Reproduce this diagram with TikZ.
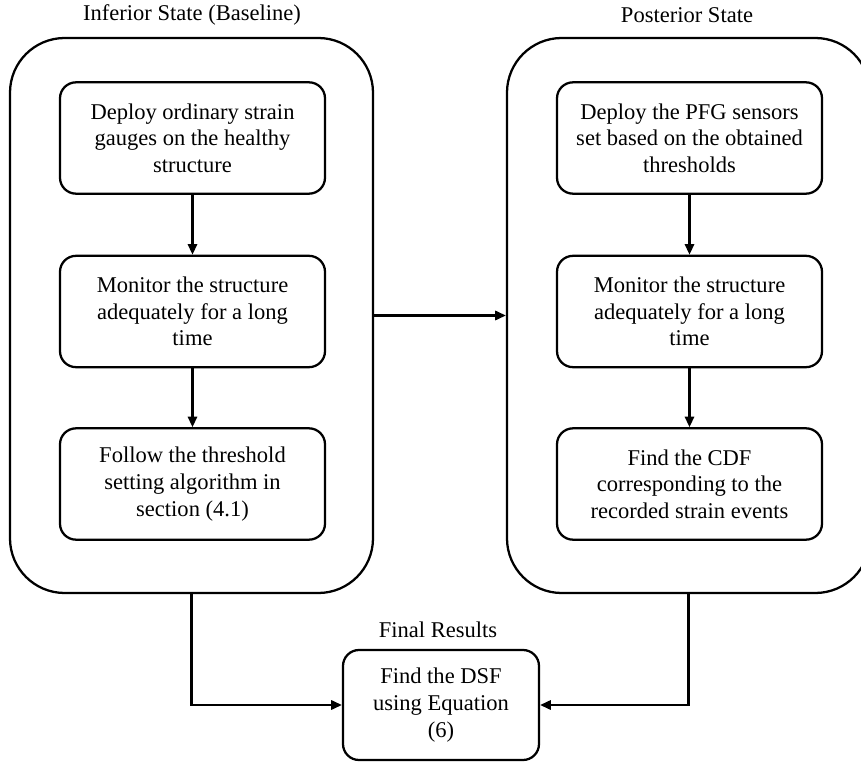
\documentclass[tikz,border=0pt]{standalone}
\usepackage{fontspec}
\setmainfont{Liberation Serif}
\usetikzlibrary{arrows.meta}
\begin{document}
\begin{tikzpicture}[x=0.75pt,y=-0.75pt,
  every node/.style={font=\fontsize{16.9pt}{20pt}\selectfont},
  outerbox/.style={draw, line width=1.7pt, rounded corners=41pt, inner sep=0pt, minimum width=272.25pt, minimum height=416.25pt},
  stepbox/.style={draw, line width=1.7pt, rounded corners=12pt, align=center, inner sep=0pt, minimum width=198.75pt, minimum height=83.5pt},
  finalbox/.style={draw, line width=1.7pt, rounded corners=12pt, align=center, inner sep=0pt, minimum width=147pt, minimum height=82.5pt},
  conn/.style={line width=1.6pt, -{Triangle[length=8pt,width=7pt]}},
  titlelab/.style={inner sep=0pt}
]
\clip (0,0) rectangle (861,763);
\fill[white] (0,0) rectangle (861,763);

% titles
\node[titlelab] (tL) at (192,15) {Inferior State (Baseline)};
\node[titlelab] (tR) at (687,15) {Posterior State};
\node[titlelab] (tF) at (438,630) {Final Results};

% outer boxes
\node[outerbox] (Lout) at (191.5,315.5) {};
\node[outerbox] (Rout) at (688.5,315.5) {};

% left steps
\node[stepbox] (L1) at (192.5,138) {Deploy ordinary strain\\gauges on the healthy\\structure};
\node[stepbox] (L2) at (192.5,311.5) {Monitor the structure\\adequately for a long\\time};
\node[stepbox] (L3) at (192.5,484) {Follow the threshold\\setting algorithm in\\section (4.1)};

% right steps
\node[stepbox] (R1) at (689.5,138) {Deploy the PFG sensors\\set based on the obtained\\thresholds};
\node[stepbox] (R2) at (689.5,311.5) {Monitor the structure\\adequately for a long\\time};
\node[stepbox] (R3) at (689.5,484) {Find the CDF\\corresponding to the\\recorded strain events};

% final
\node[finalbox] (F) at (441,705) {Find the DSF\\using Equation\\(6)};

% connectors
\draw[conn] (L1) -- (L2);
\draw[conn] (L2) -- (L3);
\draw[conn] (R1) -- (R2);
\draw[conn] (R2) -- (R3);
\draw[conn] (Lout.east) -- (Rout.west);
\draw[conn] (Lout.south) |- (F.west);
\draw[conn] (Rout.south) |- (F.east);
\end{tikzpicture}
\end{document}
